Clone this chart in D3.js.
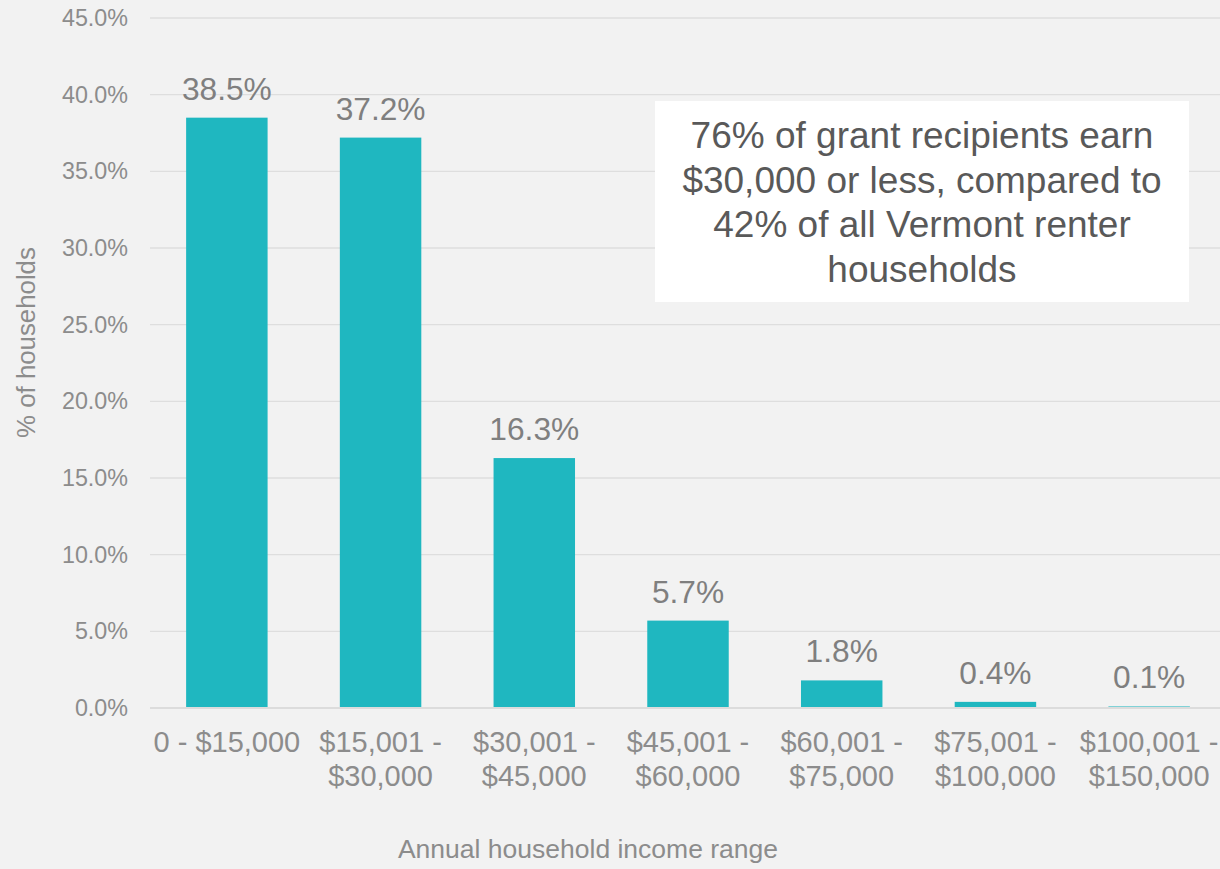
<!DOCTYPE html>
<html>
<head>
<meta charset="utf-8">
<script src="https://cdn.jsdelivr.net/npm/d3@7"></script>
<style>
  html, body { margin: 0; padding: 0; background: #f2f2f2; }
  svg { display: block; font-family: "Liberation Sans", Arial, sans-serif; }
</style>
</head>
<body>
<svg id="chart" width="1220" height="869"></svg>
<script>
const categories = [
  ["0 - $15,000"],
  ["$15,001 -", "$30,000"],
  ["$30,001 -", "$45,000"],
  ["$45,001 -", "$60,000"],
  ["$60,001 -", "$75,000"],
  ["$75,001 -", "$100,000"],
  ["$100,001 -", "$150,000"]
];
const values = [38.5, 37.2, 16.3, 5.7, 1.8, 0.4, 0.1];
const yTicks = [0, 5, 10, 15, 20, 25, 30, 35, 40, 45];
const yTitle = "% of households";
const xTitle = "Annual household income range";
const annotation = [
  "76% of grant recipients earn",
  "$30,000 or less, compared to",
  "42% of all Vermont renter",
  "households"
];

const svg = d3.select("#chart");
const W = 1220, H = 869;
svg.append("rect").attr("width", W).attr("height", H).attr("fill", "#f2f2f2");

const keys = categories.map(c => c.join(" "));
const x = d3.scaleBand().domain(keys).range([150, 1226]).paddingInner(0.47).paddingOuter(0.235);
const y = d3.scaleLinear().domain([0, 45]).range([708, 18]);

// gridlines
svg.append("g").selectAll("line").data(yTicks.filter(d => d !== 0)).join("line")
  .attr("x1", 150).attr("x2", 1226)
  .attr("y1", d => y(d)).attr("y2", d => y(d))
  .attr("stroke", "#dedede").attr("stroke-width", 1.3);

// y axis
const yAxis = svg.append("g").attr("transform", "translate(150,0)")
  .call(d3.axisLeft(y).tickValues(yTicks).tickFormat(d => d.toFixed(1) + "%").tickSize(0).tickPadding(22));
yAxis.select(".domain").remove();
yAxis.selectAll("text").attr("font-size", "23.3px").attr("fill", "#8c8c8c")
  .attr("font-family", "'Liberation Sans', Arial, sans-serif");

// bars
svg.append("g").selectAll("rect").data(values).join("rect")
  .attr("x", (d, i) => x(keys[i]))
  .attr("width", x.bandwidth())
  .attr("y", d => y(d))
  .attr("height", d => y(0) - y(d))
  .attr("fill", "#1fb7c0");

// zero baseline on top
svg.append("line")
  .attr("x1", 150).attr("x2", 1226)
  .attr("y1", y(0)).attr("y2", y(0))
  .attr("stroke", "#dcdcdc").attr("stroke-width", 2.2);

// data labels
svg.append("g").selectAll("text").data(values).join("text")
  .attr("x", (d, i) => x(keys[i]) + x.bandwidth() / 2)
  .attr("y", d => y(d) - 18)
  .attr("text-anchor", "middle")
  .attr("font-size", "31.7px")
  .attr("fill", "#7f7f7f")
  .text(d => d.toFixed(1) + "%");

// x labels
const xl = svg.append("g").selectAll("text").data(categories).join("text")
  .attr("text-anchor", "middle")
  .attr("font-size", "29px")
  .attr("fill", "#8c8c8c");
xl.each(function(d, i) {
  const t = d3.select(this);
  d.forEach((line, j) => {
    t.append("tspan")
      .attr("x", x(keys[i]) + x.bandwidth() / 2)
      .attr("y", 752 + j * 33.5)
      .text(line);
  });
});

// axis titles
svg.append("text")
  .attr("transform", "translate(35,342.5) rotate(-90)")
  .attr("text-anchor", "middle")
  .attr("font-size", "25.8px")
  .attr("fill", "#8c8c8c")
  .text(yTitle);

svg.append("text")
  .attr("x", 588).attr("y", 858)
  .attr("text-anchor", "middle")
  .attr("font-size", "26.5px")
  .attr("fill", "#8c8c8c")
  .text(xTitle);

// annotation box
svg.append("rect")
  .attr("x", 655).attr("y", 101).attr("width", 534).attr("height", 201)
  .attr("fill", "#ffffff");
svg.append("g").selectAll("text").data(annotation).join("text")
  .attr("x", 922)
  .attr("y", (d, i) => 148 + i * 44.6)
  .attr("text-anchor", "middle")
  .attr("font-size", "37px")
  .attr("fill", "#595959")
  .text(d => d);
</script>
</body>
</html>
